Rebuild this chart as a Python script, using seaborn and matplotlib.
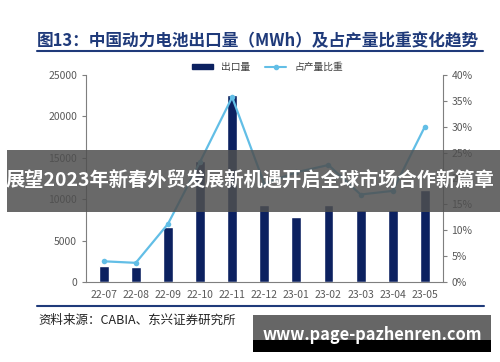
import matplotlib
matplotlib.use('Agg')
import matplotlib.pyplot as plt
import seaborn as sns
import pandas as pd
from matplotlib.patches import Rectangle
from matplotlib.lines import Line2D

months = ['22-07', '22-08', '22-09', '22-10', '22-11', '22-12',
          '23-01', '23-02', '23-03', '23-04', '23-05']
export_mwh = [1950, 1850, 6700, 14600, 22600, 9300, 7850, 9300, 8700, 8700, 11100]
share_pct = [4.0, 3.7, 11.2, 23.2, 35.7, 19.0, 21.2, 22.6, 16.9, 17.6, 30.0]

title = '图13：中国动力电池出口量（MWh）及占产量比重变化趋势'
source = '资料来源：CABIA、东兴证券研究所'
banner = '展望2023年新春外贸发展新机遇开启全球市场合作新篇章'
site = 'www.page-pazhenren.com'

df = pd.DataFrame({'month': months, 'export': export_mwh, 'share': share_pct})

sns.set_style('white')
plt.rcParams['font.family'] = ['Noto Sans CJK SC', 'DejaVu Sans']

navy = '#0C2160'
lblue = '#62BEE6'
grey = '#7F7F7F'

fig = plt.figure(figsize=(5, 3.62), dpi=100)
ax = fig.add_axes([0.172, 0.221, 0.713, 0.572])

sns.barplot(data=df, x='month', y='export', color=navy, width=0.31,
            saturation=1, ax=ax)
ax.set_ylim(0, 25000)
ax.set_yticks(range(0, 25001, 5000))
ax.set_xlabel('')
ax.set_ylabel('')

ax2 = ax.twinx()
sns.lineplot(data=df, x='month', y='share', color=lblue, lw=1.6,
             marker='o', markersize=4, markeredgewidth=0, ax=ax2)
ax2.set_ylim(0, 40)
ax2.set_yticks(range(0, 41, 5))
ax2.set_yticklabels([f'{v}%' for v in range(0, 41, 5)])
ax2.set_ylabel('')
ax.set_xlim(-0.55, 10.55)

for a in (ax, ax2):
    a.spines['top'].set_visible(False)
    a.tick_params(labelsize=7.5, colors='#595959', length=3)
ax.spines['right'].set_visible(False)
ax2.spines['left'].set_visible(False)
ax.spines['left'].set_color(grey)
ax.spines['bottom'].set_color(grey)
ax2.spines['right'].set_color(grey)
ax2.spines['bottom'].set_visible(False)
ax.tick_params(axis='x', length=0, pad=6)
ax.tick_params(axis='y', left=True, length=3, color=grey)
ax2.tick_params(axis='y', right=True, length=3, color=grey)

handles = [Rectangle((0, 0), 1, 1, color=navy),
           Line2D([0], [0], color=lblue, marker='o', markersize=3, lw=1.5)]
fig.legend(handles, ['出口量', '占产量比重'], loc='center',
           bbox_to_anchor=(0.535, 0.815), ncol=2, frameon=False,
           fontsize=7, handlelength=2.2, handleheight=0.5, columnspacing=1.5,
           labelcolor='#404040')

# title and rules
fig.text(0.074, 0.887, title, fontsize=12, fontweight='bold', color='#1F3A7A',
         va='center', ha='left')
fig.add_artist(Line2D([0.074, 0.966], [0.859, 0.859], color='#1F3A7A', lw=1.5))
fig.add_artist(Line2D([0.074, 0.968], [0.155, 0.155], color='#1F3A7A', lw=1.5))
fig.text(0.076, 0.116, source, fontsize=9, style='italic', color='#222222',
         va='center', ha='left')

# banner overlay
fig.add_artist(Rectangle((0.014, 0.415), 0.986, 0.17, transform=fig.transFigure,
                         color='#4F4F4F', alpha=0.85, lw=0))
fig.text(0.5, 0.5, banner, fontsize=13.9, fontweight='bold', color='white',
         ha='center', va='center')

# watermark box
fig.add_artist(Rectangle((0.506, 0.06), 0.476, 0.07, transform=fig.transFigure,
                         color='#666666', lw=0))
fig.add_artist(Rectangle((0.506, 0.027), 0.476, 0.034, transform=fig.transFigure,
                         color='black', lw=0))
fig.text(0.744, 0.075, site, fontsize=11.8, fontweight='bold', color='white',
         ha='center', va='center')

fig.savefig('out.png', dpi=100)
